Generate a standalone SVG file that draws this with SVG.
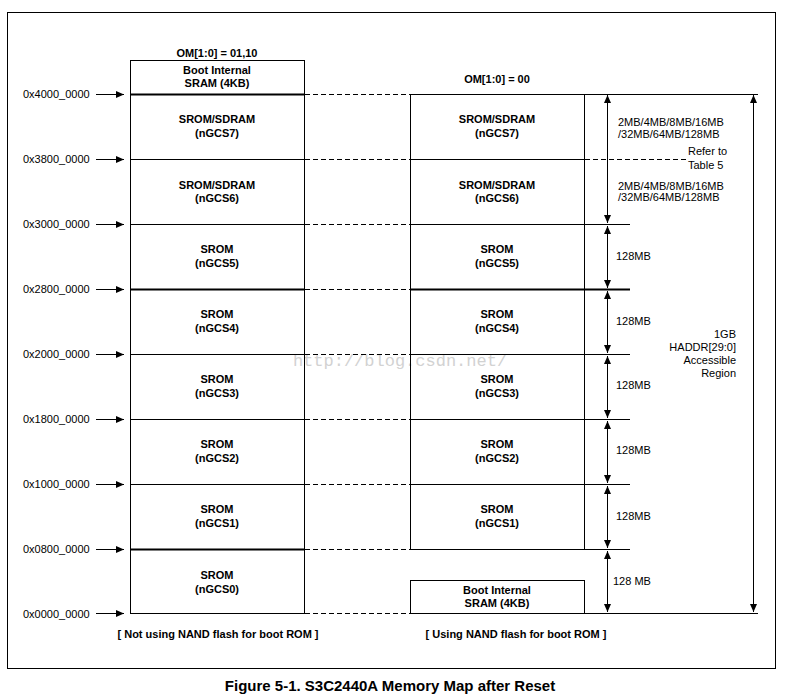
<svg xmlns="http://www.w3.org/2000/svg" width="785" height="698" viewBox="0 0 785 698">
<defs>
<style>
.t{font-family:"Liberation Sans",Arial,sans-serif;font-size:11px;fill:#000}
.b{font-weight:bold}
.c{text-anchor:middle}
.r{text-anchor:end}
.ln{stroke:#000;stroke-width:1;fill:none}
.th{stroke:#000;stroke-width:2;fill:none}
.da{stroke:#000;stroke-width:1;stroke-dasharray:5,3;fill:none}
</style>
<marker id="ah" viewBox="0 0 8 8" refX="8" refY="4" markerWidth="8" markerHeight="8" markerUnits="userSpaceOnUse" orient="auto">
<path d="M0,0.5 L8,4 L0,7.5 Z" fill="#000"/>
</marker>
<marker id="dh" viewBox="0 0 8 8" refX="8" refY="4" markerWidth="8" markerHeight="8" markerUnits="userSpaceOnUse" orient="auto-start-reverse">
<path d="M0,0.5 L8,4 L0,7.5 Z" fill="#000"/>
</marker>
</defs>
<rect width="785" height="698" fill="#fff"/>
<rect x="7.5" y="12.5" width="768" height="656" class="ln"/>
<text x="390" y="691" class="t b c" style="font-size:15px">Figure 5-1. S3C2440A Memory Map after Reset</text>

<text x="400" y="366" style="font-family:'Liberation Mono',monospace;font-size:17px;fill:#d2d2d2" text-anchor="middle">http://blog.csdn.net/</text>

<g id="addresses">
<text x="23" y="98" class="t">0x4000_0000</text>
<text x="23" y="163" class="t">0x3800_0000</text>
<text x="23" y="228" class="t">0x3000_0000</text>
<text x="23" y="293" class="t">0x2800_0000</text>
<text x="23" y="358" class="t">0x2000_0000</text>
<text x="23" y="423" class="t">0x1800_0000</text>
<text x="23" y="488" class="t">0x1000_0000</text>
<text x="23" y="553" class="t">0x0800_0000</text>
<text x="23" y="618" class="t">0x0000_0000</text>
</g>

<g id="connectors">
<line x1="96" y1="94.5" x2="124" y2="94.5" class="ln" marker-end="url(#ah)"/>
<line x1="96" y1="159.5" x2="124" y2="159.5" class="ln" marker-end="url(#ah)"/>
<line x1="96" y1="224.5" x2="124" y2="224.5" class="ln" marker-end="url(#ah)"/>
<line x1="96" y1="289.5" x2="124" y2="289.5" class="ln" marker-end="url(#ah)"/>
<line x1="96" y1="354.5" x2="124" y2="354.5" class="ln" marker-end="url(#ah)"/>
<line x1="96" y1="419.5" x2="124" y2="419.5" class="ln" marker-end="url(#ah)"/>
<line x1="96" y1="484.5" x2="124" y2="484.5" class="ln" marker-end="url(#ah)"/>
<line x1="96" y1="549.5" x2="124" y2="549.5" class="ln" marker-end="url(#ah)"/>
<line x1="96" y1="613.5" x2="124" y2="613.5" class="ln" marker-end="url(#ah)"/>
<path d="M305,94.5H410M305,159.5H410M305,224.5H410M305,289.5H410M305,354.5H410M305,419.5H410M305,484.5H410M305,549.5H410M305,613.5H410M585,159.5H688" class="da"/>
<line x1="607.5" y1="95" x2="607.5" y2="223" class="ln" marker-start="url(#dh)" marker-end="url(#dh)"/>
<line x1="607.5" y1="226" x2="607.5" y2="288" class="ln" marker-start="url(#dh)" marker-end="url(#dh)"/>
<line x1="607.5" y1="291" x2="607.5" y2="353" class="ln" marker-start="url(#dh)" marker-end="url(#dh)"/>
<line x1="607.5" y1="356" x2="607.5" y2="418" class="ln" marker-start="url(#dh)" marker-end="url(#dh)"/>
<line x1="607.5" y1="421" x2="607.5" y2="483" class="ln" marker-start="url(#dh)" marker-end="url(#dh)"/>
<line x1="607.5" y1="486" x2="607.5" y2="548" class="ln" marker-start="url(#dh)" marker-end="url(#dh)"/>
<line x1="607.5" y1="551" x2="607.5" y2="612" class="ln" marker-start="url(#dh)" marker-end="url(#dh)"/>
<line x1="753.5" y1="95" x2="753.5" y2="612" class="ln" marker-start="url(#dh)" marker-end="url(#dh)"/>
</g>

<g id="left-map">
<text x="217" y="57" class="t b c">OM[1:0] = 01,10</text>
<rect x="130.5" y="60.5" width="174" height="553" class="ln"/>
<path d="M130,159.5H304M130,224.5H304M130,354.5H304M130,419.5H304M130,484.5H304" class="ln"/>
<path d="M130,94.5H304M130,289.5H304M130,549.5H304" class="th"/>
<text x="217" y="74" class="t b c">Boot Internal</text>
<text x="217" y="87" class="t b c">SRAM (4KB)</text>
<text x="217" y="123" class="t b c">SROM/SDRAM</text>
<text x="217" y="137" class="t b c">(nGCS7)</text>
<text x="217" y="189" class="t b c">SROM/SDRAM</text>
<text x="217" y="202" class="t b c">(nGCS6)</text>
<text x="217" y="253" class="t b c">SROM</text>
<text x="217" y="267" class="t b c">(nGCS5)</text>
<text x="217" y="318" class="t b c">SROM</text>
<text x="217" y="332" class="t b c">(nGCS4)</text>
<text x="217" y="383" class="t b c">SROM</text>
<text x="217" y="397" class="t b c">(nGCS3)</text>
<text x="217" y="448" class="t b c">SROM</text>
<text x="217" y="462" class="t b c">(nGCS2)</text>
<text x="217" y="513" class="t b c">SROM</text>
<text x="217" y="527" class="t b c">(nGCS1)</text>
<text x="217" y="579" class="t b c">SROM</text>
<text x="217" y="593" class="t b c">(nGCS0)</text>
<text x="218" y="638" class="t b c">[ Not using NAND flash for boot ROM ]</text>
</g>

<g id="right-map">
<text x="497" y="83" class="t b c">OM[1:0] = 00</text>
<path d="M410,94.5H758M410.5,94V549M584.5,94V549M410,159.5H584M410,224.5H630M410,354.5H630M410,419.5H630M410,484.5H630M410,549.5H630M410,613.5H758" class="ln"/>
<path d="M410,289.5H630" class="th"/>
<rect x="410.5" y="580.5" width="174" height="33" class="ln"/>
<text x="497" y="123" class="t b c">SROM/SDRAM</text>
<text x="497" y="137" class="t b c">(nGCS7)</text>
<text x="497" y="189" class="t b c">SROM/SDRAM</text>
<text x="497" y="202" class="t b c">(nGCS6)</text>
<text x="497" y="253" class="t b c">SROM</text>
<text x="497" y="267" class="t b c">(nGCS5)</text>
<text x="497" y="318" class="t b c">SROM</text>
<text x="497" y="332" class="t b c">(nGCS4)</text>
<text x="497" y="383" class="t b c">SROM</text>
<text x="497" y="397" class="t b c">(nGCS3)</text>
<text x="497" y="448" class="t b c">SROM</text>
<text x="497" y="462" class="t b c">(nGCS2)</text>
<text x="497" y="513" class="t b c">SROM</text>
<text x="497" y="527" class="t b c">(nGCS1)</text>
<text x="497" y="594" class="t b c">Boot Internal</text>
<text x="497" y="607" class="t b c">SRAM (4KB)</text>
<text x="516" y="638" class="t b c">[ Using NAND flash for boot ROM ]</text>
</g>

<g id="sizes">
<text x="618" y="126" class="t">2MB/4MB/8MB/16MB</text>
<text x="618" y="138" class="t">/32MB/64MB/128MB</text>
<text x="688" y="155" class="t">Refer to</text>
<text x="688" y="169" class="t">Table 5</text>
<text x="618" y="190" class="t">2MB/4MB/8MB/16MB</text>
<text x="618" y="201" class="t">/32MB/64MB/128MB</text>
<text x="616" y="260" class="t">128MB</text>
<text x="616" y="325" class="t">128MB</text>
<text x="616" y="389" class="t">128MB</text>
<text x="616" y="454" class="t">128MB</text>
<text x="616" y="520" class="t">128MB</text>
<text x="613" y="585" class="t">128 MB</text>
<text x="736" y="338" class="t r">1GB</text>
<text x="736" y="351" class="t r">HADDR[29:0]</text>
<text x="736" y="364" class="t r">Accessible</text>
<text x="736" y="377" class="t r">Region</text>
</g>
</svg>
